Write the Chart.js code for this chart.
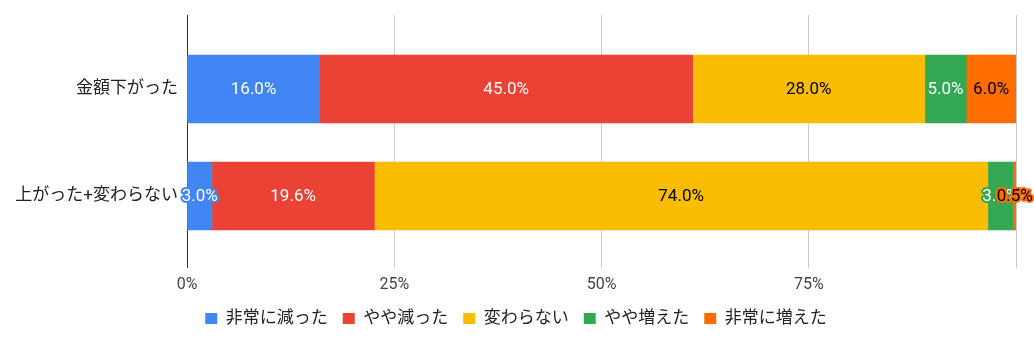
<!DOCTYPE html>
<html>
<head>
<meta charset="utf-8">
<script src="https://cdn.jsdelivr.net/npm/chart.js@4"></script>
<style>
    html, body { margin: 0; padding: 0; background: #fff; }
    #wrap { width: 1034px; height: 345px; }
</style>
</head>
<body>
<div id="wrap"><canvas id="chart"></canvas></div>
<script>
// Kategorie i serie (procenty)
const categories = ['金額下がった', '上がった+変わらない'];
const seriesNames = ['非常に減った', 'やや減った', '変わらない', 'やや増えた', '非常に増えた'];
const veryDown = [16.0, 3.0];
const slightlyDown = [45.0, 19.6];
const unchanged = [28.0, 74.0];
const slightlyUp = [5.0, 3.0];
const veryUp = [6.0, 0.5];
const xTicks = [0, 25, 50, 75, 100];

const colors = ['#4285F4', '#EA4335', '#FBBC04', '#34A853', '#FF6D01'];
const labelColors = ['#ffffff', '#ffffff', '#000000', '#ffffff', '#000000'];
const font = "Roboto, 'Noto Sans CJK JP', sans-serif";

const values = [veryDown, slightlyDown, unchanged, slightlyUp, veryUp];

// Etykiety wartości na środku każdego segmentu, z obwódką w kolorze segmentu
const barLabels = {
    id: 'barLabels',
    afterDatasetsDraw(chart) {
        const ctx = chart.ctx;
        ctx.save();
        ctx.font = '17px ' + font;
        ctx.textAlign = 'center';
        ctx.textBaseline = 'middle';
        ctx.lineJoin = 'round';
        chart.data.datasets.forEach((ds, i) => {
            const meta = chart.getDatasetMeta(i);
            meta.data.forEach((bar, j) => {
                const text = ds.data[j].x.toFixed(1) + '%';
                const cx = (bar.x + bar.base) / 2;
                ctx.lineWidth = 4;
                ctx.strokeStyle = colors[i];
                ctx.strokeText(text, cx, bar.y + 1);
                ctx.fillStyle = labelColors[i];
                ctx.fillText(text, cx, bar.y + 1);
            });
        });
        ctx.restore();
    }
};

// Oś kategorii jako liniowa: indeks 0 i 1, z marginesem nad i pod słupkami
const datasets = seriesNames.map((name, i) => ({
    label: name,
    data: values[i].map((v, j) => ({ x: v, y: j })),
    backgroundColor: colors[i],
    borderWidth: 0,
    barThickness: 68
}));

new Chart(document.getElementById('chart'), {
    type: 'bar',
    data: { datasets: datasets },
    options: {
        indexAxis: 'y',
        responsive: true,
        maintainAspectRatio: false,
        animation: false,
        layout: { padding: { top: 15, left: 16, right: 18, bottom: 8 } },
        scales: {
            x: {
                type: 'linear',
                stacked: true,
                min: 0,
                max: 100,
                afterBuildTicks: scale => { scale.ticks = xTicks.map(v => ({ value: v })); },
                afterFit: scale => { scale.height = 27; },
                border: { display: false },
                grid: {
                    drawTicks: false,
                    color: c => c.tick && c.tick.value === 0 ? '#333333' : '#cccccc',
                    lineWidth: 1
                },
                ticks: {
                    padding: 7,
                    color: '#444444',
                    font: { family: font, size: 16 },
                    callback: v => v === 100 ? '' : v + '%'
                }
            },
            y: {
                type: 'linear',
                stacked: true,
                reverse: true,
                offset: false,
                min: -0.692,
                max: 1.673,
                afterBuildTicks: scale => { scale.ticks = categories.map((c, j) => ({ value: j })); },
                border: { display: false },
                grid: { display: false, drawTicks: false },
                // etykiety kategorii leżą w środku osi, więc bez dodatkowego marginesu
                afterFit: scale => {
                    scale.width = 171;
                    scale.paddingTop = 0;
                    scale.paddingBottom = 0;
                },
                ticks: {
                    padding: 9,
                    color: '#222222',
                    font: { family: font, size: 17 },
                    callback: v => categories[v]
                }
            }
        },
        plugins: {
            legend: {
                position: 'bottom',
                labels: {
                    boxWidth: 12,
                    boxHeight: 11,
                    padding: 15,
                    color: '#222222',
                    font: { family: font, size: 17 }
                }
            },
            tooltip: { enabled: false }
        }
    },
    plugins: [barLabels]
});
</script>
</body>
</html>
